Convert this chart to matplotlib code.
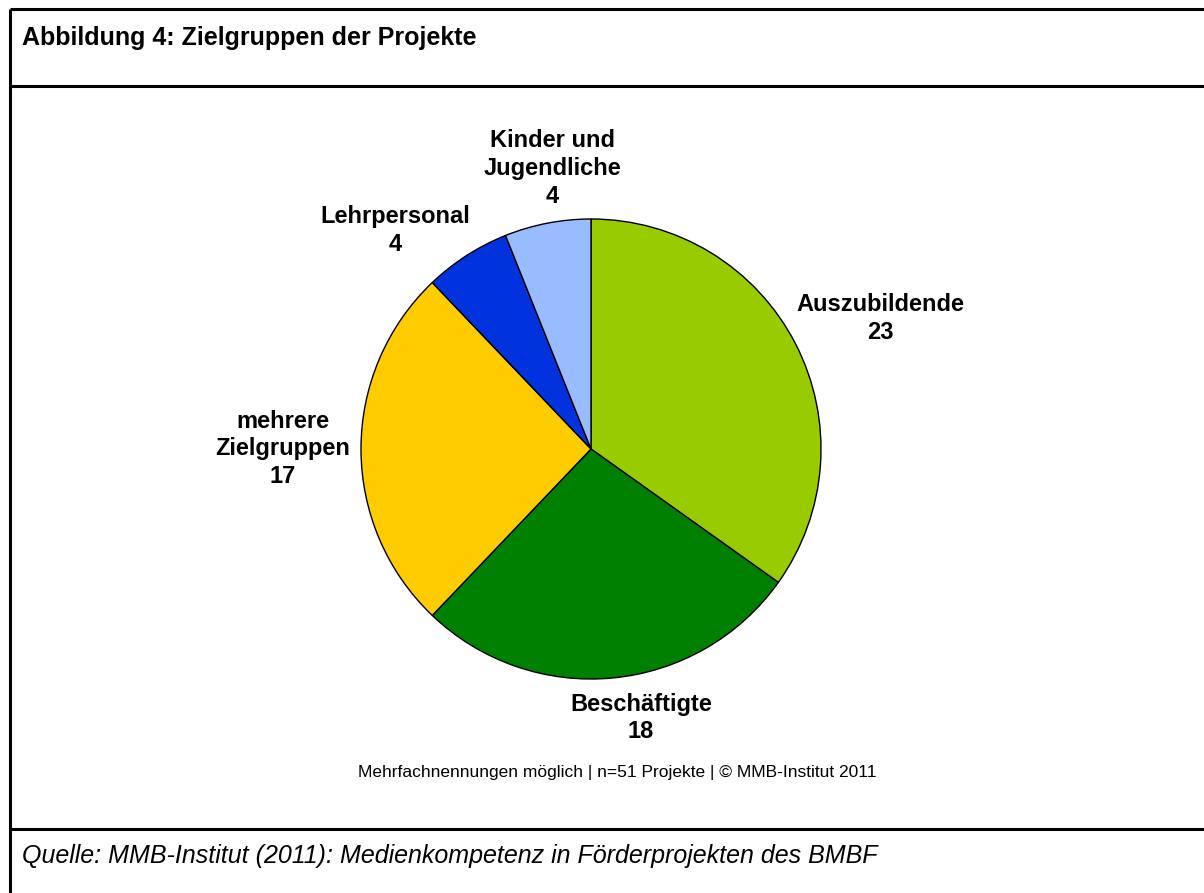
import matplotlib
matplotlib.use("Agg")
import numpy as np
import matplotlib.pyplot as plt

# Daten
kategorien = ["Auszubildende", "Beschäftigte", "mehrere\nZielgruppen", "Lehrpersonal", "Kinder und\nJugendliche"]
werte = [23, 18, 17, 4, 4]
farben = ["#99CC00", "#008000", "#FFCC00", "#0033DD", "#99BBFF"]

titel = "Abbildung 4: Zielgruppen der Projekte"
fussnote = "Mehrfachnennungen möglich | n=51 Projekte | © MMB-Institut 2011"
quelle = "Quelle: MMB-Institut (2011): Medienkompetenz in Förderprojekten des BMBF"

# Label-Versatz (Pixel) vom Rand der Tortenstücke
label_offset = [(85, 25), (28, -40), (-78, 0), (-71, 25), (5, 55)]

plt.rcParams['font.family'] = ['Liberation Sans', 'DejaVu Sans']

W, H = 1204, 893
fig = plt.figure(figsize=(W / 100, H / 100), dpi=100)
ax = fig.add_axes([0, 0, 1, 1])

cx, cy, r = 591, H - 449, 230
wedges, _ = ax.pie(werte, colors=farben, startangle=90, counterclock=False,
                   center=(cx, cy), radius=r,
                   wedgeprops=dict(edgecolor="black", linewidth=1.0))

for w, name, val, (dx, dy) in zip(wedges, kategorien, werte, label_offset):
    mid = np.deg2rad((w.theta1 + w.theta2) / 2)
    px, py = cx + r * np.cos(mid), cy + r * np.sin(mid)
    ax.annotate(f"{name}\n{val}", xy=(px, py), xytext=(dx, dy), textcoords="offset pixels",
                ha="center", va="center", fontsize=17, fontweight="bold",
                linespacing=1.27, multialignment="center")

ax.set_xlim(0, W)
ax.set_ylim(0, H)
ax.axis("off")

# Rahmen
lw = 2.2
ax.plot([10, W], [H - 9, H - 9], color="black", lw=lw, solid_capstyle="butt")
ax.plot([10, W], [H - 86, H - 86], color="black", lw=lw, solid_capstyle="butt")
ax.plot([10, W], [H - 829, H - 829], color="black", lw=lw, solid_capstyle="butt")
ax.plot([10, 10], [0, H - 9], color="black", lw=lw, solid_capstyle="butt")

ax.text(22, H - 45, titel, fontsize=18, fontweight="bold", va="baseline", ha="left")
ax.text(617, H - 777, fussnote, fontsize=12.55, va="baseline", ha="center")
ax.text(22, H - 863, quelle, fontsize=18, style="italic", va="baseline", ha="left")

fig.savefig("out.png", dpi=100)
